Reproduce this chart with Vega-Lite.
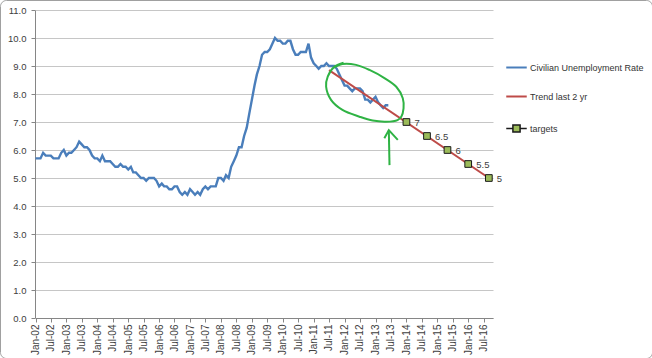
{
  "$schema": "https://vega.github.io/schema/vega-lite/v6.json",
  "width": 652,
  "height": 358,
  "padding": 0,
  "autosize": {"type": "none"},
  "background": "white",
  "config": {
    "view": {"stroke": "#a0a0a0", "strokeWidth": 1, "cornerRadius": 6, "fill": "white"},
    "font": "Liberation Sans"
  },
  "datasets": {
    "unrate": [
      {"date":"2002-01-01","rate":5.7},{"date":"2002-02-01","rate":5.7},{"date":"2002-03-01","rate":5.7},{"date":"2002-04-01","rate":5.9},{"date":"2002-05-01","rate":5.8},{"date":"2002-06-01","rate":5.8},{"date":"2002-07-01","rate":5.8},{"date":"2002-08-01","rate":5.7},{"date":"2002-09-01","rate":5.7},{"date":"2002-10-01","rate":5.7},{"date":"2002-11-01","rate":5.9},{"date":"2002-12-01","rate":6.0},
      {"date":"2003-01-01","rate":5.8},{"date":"2003-02-01","rate":5.9},{"date":"2003-03-01","rate":5.9},{"date":"2003-04-01","rate":6.0},{"date":"2003-05-01","rate":6.1},{"date":"2003-06-01","rate":6.3},{"date":"2003-07-01","rate":6.2},{"date":"2003-08-01","rate":6.1},{"date":"2003-09-01","rate":6.1},{"date":"2003-10-01","rate":6.0},{"date":"2003-11-01","rate":5.8},{"date":"2003-12-01","rate":5.7},
      {"date":"2004-01-01","rate":5.7},{"date":"2004-02-01","rate":5.6},{"date":"2004-03-01","rate":5.8},{"date":"2004-04-01","rate":5.6},{"date":"2004-05-01","rate":5.6},{"date":"2004-06-01","rate":5.6},{"date":"2004-07-01","rate":5.5},{"date":"2004-08-01","rate":5.4},{"date":"2004-09-01","rate":5.4},{"date":"2004-10-01","rate":5.5},{"date":"2004-11-01","rate":5.4},{"date":"2004-12-01","rate":5.4},
      {"date":"2005-01-01","rate":5.3},{"date":"2005-02-01","rate":5.4},{"date":"2005-03-01","rate":5.2},{"date":"2005-04-01","rate":5.2},{"date":"2005-05-01","rate":5.1},{"date":"2005-06-01","rate":5.0},{"date":"2005-07-01","rate":5.0},{"date":"2005-08-01","rate":4.9},{"date":"2005-09-01","rate":5.0},{"date":"2005-10-01","rate":5.0},{"date":"2005-11-01","rate":5.0},{"date":"2005-12-01","rate":4.9},
      {"date":"2006-01-01","rate":4.7},{"date":"2006-02-01","rate":4.8},{"date":"2006-03-01","rate":4.7},{"date":"2006-04-01","rate":4.7},{"date":"2006-05-01","rate":4.6},{"date":"2006-06-01","rate":4.6},{"date":"2006-07-01","rate":4.7},{"date":"2006-08-01","rate":4.7},{"date":"2006-09-01","rate":4.5},{"date":"2006-10-01","rate":4.4},{"date":"2006-11-01","rate":4.5},{"date":"2006-12-01","rate":4.4},
      {"date":"2007-01-01","rate":4.6},{"date":"2007-02-01","rate":4.5},{"date":"2007-03-01","rate":4.4},{"date":"2007-04-01","rate":4.5},{"date":"2007-05-01","rate":4.4},{"date":"2007-06-01","rate":4.6},{"date":"2007-07-01","rate":4.7},{"date":"2007-08-01","rate":4.6},{"date":"2007-09-01","rate":4.7},{"date":"2007-10-01","rate":4.7},{"date":"2007-11-01","rate":4.7},{"date":"2007-12-01","rate":5.0},
      {"date":"2008-01-01","rate":5.0},{"date":"2008-02-01","rate":4.9},{"date":"2008-03-01","rate":5.1},{"date":"2008-04-01","rate":5.0},{"date":"2008-05-01","rate":5.4},{"date":"2008-06-01","rate":5.6},{"date":"2008-07-01","rate":5.8},{"date":"2008-08-01","rate":6.1},{"date":"2008-09-01","rate":6.1},{"date":"2008-10-01","rate":6.5},{"date":"2008-11-01","rate":6.8},{"date":"2008-12-01","rate":7.3},
      {"date":"2009-01-01","rate":7.8},{"date":"2009-02-01","rate":8.3},{"date":"2009-03-01","rate":8.7},{"date":"2009-04-01","rate":9.0},{"date":"2009-05-01","rate":9.4},{"date":"2009-06-01","rate":9.5},{"date":"2009-07-01","rate":9.5},{"date":"2009-08-01","rate":9.6},{"date":"2009-09-01","rate":9.8},{"date":"2009-10-01","rate":10.0},{"date":"2009-11-01","rate":9.9},{"date":"2009-12-01","rate":9.9},
      {"date":"2010-01-01","rate":9.8},{"date":"2010-02-01","rate":9.8},{"date":"2010-03-01","rate":9.9},{"date":"2010-04-01","rate":9.9},{"date":"2010-05-01","rate":9.6},{"date":"2010-06-01","rate":9.4},{"date":"2010-07-01","rate":9.4},{"date":"2010-08-01","rate":9.5},{"date":"2010-09-01","rate":9.5},{"date":"2010-10-01","rate":9.5},{"date":"2010-11-01","rate":9.8},{"date":"2010-12-01","rate":9.3},
      {"date":"2011-01-01","rate":9.1},{"date":"2011-02-01","rate":9.0},{"date":"2011-03-01","rate":8.9},{"date":"2011-04-01","rate":9.0},{"date":"2011-05-01","rate":9.0},{"date":"2011-06-01","rate":9.1},{"date":"2011-07-01","rate":9.0},{"date":"2011-08-01","rate":9.0},{"date":"2011-09-01","rate":9.0},{"date":"2011-10-01","rate":8.9},{"date":"2011-11-01","rate":8.7},{"date":"2011-12-01","rate":8.5},
      {"date":"2012-01-01","rate":8.3},{"date":"2012-02-01","rate":8.3},{"date":"2012-03-01","rate":8.2},{"date":"2012-04-01","rate":8.1},{"date":"2012-05-01","rate":8.2},{"date":"2012-06-01","rate":8.2},{"date":"2012-07-01","rate":8.2},{"date":"2012-08-01","rate":8.1},{"date":"2012-09-01","rate":7.8},{"date":"2012-10-01","rate":7.8},{"date":"2012-11-01","rate":7.7},{"date":"2012-12-01","rate":7.8},
      {"date":"2013-01-01","rate":7.9},{"date":"2013-02-01","rate":7.7},{"date":"2013-03-01","rate":7.6},{"date":"2013-04-01","rate":7.5},{"date":"2013-05-01","rate":7.6},{"date":"2013-06-01","rate":7.6}
    ],
    "trend": [
      {"date":"2011-07-01","rate":8.85},
      {"date":"2016-09-01","rate":5.0}
    ],
    "targets": [
      {"date":"2014-01-01","rate":7.0,"label":"7"},
      {"date":"2014-09-01","rate":6.5,"label":"6.5"},
      {"date":"2015-05-01","rate":6.0,"label":"6"},
      {"date":"2016-01-01","rate":5.5,"label":"5.5"},
      {"date":"2016-09-01","rate":5.0,"label":"5"}
    ],
    "loop": [
      {"ord":1,"date":"2011-08-16","rate":8.92},
      {"ord":2,"date":"2011-12-07","rate":9.07},
      {"ord":3,"date":"2012-05-16","rate":9.04},
      {"ord":4,"date":"2012-10-21","rate":8.86},
      {"ord":5,"date":"2013-04-16","rate":8.57},
      {"ord":6,"date":"2013-09-03","rate":8.26},
      {"ord":7,"date":"2013-11-19","rate":7.85},
      {"ord":8,"date":"2013-11-28","rate":7.49},
      {"ord":9,"date":"2013-11-01","rate":7.19},
      {"ord":10,"date":"2013-09-18","rate":7.07},
      {"ord":11,"date":"2013-05-06","rate":7.01},
      {"ord":12,"date":"2012-11-28","rate":7.05},
      {"ord":13,"date":"2012-06-25","rate":7.19},
      {"ord":14,"date":"2011-12-07","rate":7.43},
      {"ord":15,"date":"2011-07-25","rate":7.79},
      {"ord":16,"date":"2011-05-28","rate":8.26},
      {"ord":17,"date":"2011-06-16","rate":8.62},
      {"ord":18,"date":"2011-09-05","rate":8.98},
      {"ord":19,"date":"2011-12-20","rate":9.12}
    ],
    "arrow": [
      {"part":"stem","ord":1,"date":"2013-06-15","rate":5.46},
      {"part":"stem","ord":2,"date":"2013-06-07","rate":6.71},
      {"part":"head","ord":1,"date":"2013-04-15","rate":6.42},
      {"part":"head","ord":2,"date":"2013-06-07","rate":6.71},
      {"part":"head","ord":3,"date":"2013-09-21","rate":6.36}
    ]
  },
  "layer": [
    {
      "data": {"name": "unrate"},
      "mark": {"type": "line", "strokeWidth": 2.4},
      "encoding": {
        "x": {
          "field": "date",
          "type": "temporal",
          "scale": {
            "type": "utc",
            "domain": [{"year":2002,"month":1,"date":1,"utc":true},{"year":2016,"month":10,"date":20,"utc":true}],
            "range": [35.5, 493],
            "nice": false
          },
          "axis": {
            "orient": "bottom",
            "offset": -40,
            "title": null,
            "format": "%b-%y",
            "tickCount": {"interval": "month", "step": 6},
            "labelAngle": -90,
            "labelFont": "Liberation Sans",
            "labelFontSize": 10,
            "labelColor": "#404040",
            "labelPadding": 2,
            "labelOverlap": false,
            "labelFlush": false,
            "tickSize": 4,
            "tickColor": "#868686",
            "domainColor": "#868686",
            "grid": false
          }
        },
        "y": {
          "field": "rate",
          "type": "quantitative",
          "scale": {"domain": [0, 11], "range": [318, 10], "nice": false, "zero": true},
          "axis": {
            "orient": "left",
            "offset": -35,
            "title": null,
            "values": [0,1,2,3,4,5,6,7,8,9,10,11],
            "tickCount": 12,
            "format": ".1f",
            "labelFont": "Liberation Sans",
            "labelFontSize": 9.5,
            "labelColor": "#404040",
            "labelPadding": 5,
            "labelOverlap": false,
            "labelFlush": false,
            "tickSize": 4,
            "tickColor": "#868686",
            "domainColor": "#868686",
            "grid": true,
            "gridColor": "#c6c6c6",
            "gridWidth": 1
          }
        },
        "color": {
          "datum": "Civilian Unemployment Rate",
          "scale": {
            "domain": ["Civilian Unemployment Rate", "Trend last 2 yr", "targets"],
            "range": ["#4a7ebb", "#be4b48", "#1a1a1a"]
          },
          "legend": {
            "orient": "none",
            "legendX": 512,
            "legendY": 63,
            "title": null,
            "padding": 0,
            "symbolType": "stroke",
            "symbolSize": 420,
            "symbolStrokeWidth": 2,
            "labelFont": "Liberation Sans",
            "labelFontSize": 9,
            "labelColor": "#333333",
            "labelOffset": 9,
            "rowPadding": 19,
            "encode": {
              "symbols": {
                "update": {
                  "shape": {"signal": "datum.label === 'targets' ? 'M-1,0H-0.35M0.35,0H1M-0.35,-0.35H0.35V0.35H-0.35Z' : 'stroke'"},
                  "fill": {"signal": "datum.label === 'targets' ? '#9bbb59' : 'transparent'"},
                  "strokeWidth": {"signal": "datum.label === 'targets' ? 1.5 : 2"}
                }
              }
            }
          }
        }
      }
    },
    {
      "data": {"name": "trend"},
      "mark": {"type": "line", "strokeWidth": 2},
      "encoding": {
        "x": {"field": "date", "type": "temporal"},
        "y": {"field": "rate", "type": "quantitative"},
        "color": {"datum": "Trend last 2 yr"}
      }
    },
    {
      "data": {"name": "loop"},
      "mark": {"type": "line", "color": "#2fb344", "strokeWidth": 2, "interpolate": "catmull-rom"},
      "encoding": {
        "x": {"field": "date", "type": "temporal"},
        "y": {"field": "rate", "type": "quantitative"},
        "order": {"field": "ord", "type": "quantitative"}
      }
    },
    {
      "data": {"name": "arrow"},
      "mark": {"type": "line", "color": "#2fb344", "strokeWidth": 2},
      "encoding": {
        "x": {"field": "date", "type": "temporal"},
        "y": {"field": "rate", "type": "quantitative"},
        "detail": {"field": "part"},
        "order": {"field": "ord", "type": "quantitative"}
      }
    },
    {
      "data": {"name": "targets"},
      "mark": {"type": "point", "shape": "square", "size": 45, "filled": true, "fill": "#9bbb59", "stroke": "#1a1a1a", "strokeWidth": 1, "opacity": 1},
      "encoding": {
        "x": {"field": "date", "type": "temporal"},
        "y": {"field": "rate", "type": "quantitative"}
      }
    },
    {
      "data": {"name": "targets"},
      "mark": {"type": "text", "align": "left", "baseline": "middle", "dx": 8, "dy": 1, "font": "Liberation Sans", "fontSize": 9.5, "color": "#404040"},
      "encoding": {
        "x": {"field": "date", "type": "temporal"},
        "y": {"field": "rate", "type": "quantitative"},
        "text": {"field": "label"}
      }
    }
  ]
}
